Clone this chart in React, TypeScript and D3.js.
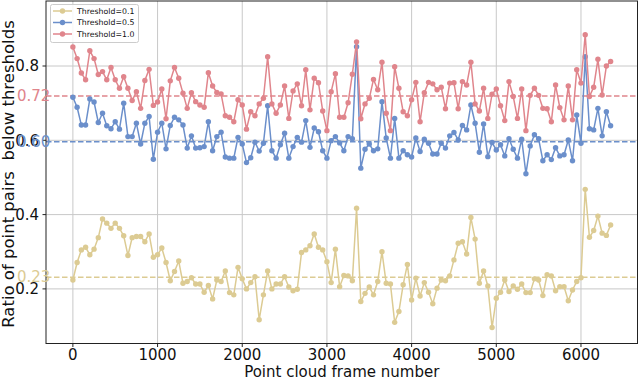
import React from "react";
import * as d3 from "d3";

const frames: number[] = d3.range(0, 6400, 50);

const thr01: number[] = [
  0.224, 0.271, 0.305, 0.312, 0.292, 0.307, 0.338, 0.388, 0.377, 0.363,
  0.377, 0.363, 0.343, 0.290, 0.338, 0.341, 0.341, 0.327, 0.348, 0.285,
  0.292, 0.310, 0.271, 0.222, 0.247, 0.275, 0.215, 0.220, 0.230, 0.213,
  0.213, 0.191, 0.209, 0.173, 0.224, 0.220, 0.248, 0.190, 0.184, 0.258,
  0.227, 0.200, 0.217, 0.233, 0.117, 0.184, 0.248, 0.200, 0.213, 0.213,
  0.233, 0.205, 0.195, 0.199, 0.298, 0.305, 0.316, 0.348, 0.312, 0.305,
  0.273, 0.217, 0.307, 0.206, 0.236, 0.235, 0.222, 0.417, 0.166, 0.188,
  0.205, 0.184, 0.220, 0.300, 0.215, 0.213, 0.110, 0.139, 0.211, 0.266,
  0.170, 0.229, 0.181, 0.217, 0.191, 0.160, 0.202, 0.224, 0.222, 0.235,
  0.278, 0.323, 0.327, 0.294, 0.392, 0.334, 0.215, 0.248, 0.208, 0.096,
  0.175, 0.191, 0.224, 0.193, 0.208, 0.199, 0.213, 0.190, 0.190, 0.227,
  0.224, 0.182, 0.238, 0.235, 0.195, 0.206, 0.206, 0.168, 0.197, 0.220,
  0.230, 0.468, 0.339, 0.357, 0.396, 0.350, 0.344, 0.372,
];

const thr05: number[] = [
  0.716, 0.689, 0.641, 0.641, 0.711, 0.703, 0.648, 0.673, 0.639, 0.631,
  0.650, 0.630, 0.700, 0.610, 0.610, 0.646, 0.590, 0.646, 0.664, 0.549,
  0.622, 0.646, 0.577, 0.640, 0.662, 0.655, 0.641, 0.579, 0.612, 0.579,
  0.580, 0.583, 0.650, 0.572, 0.610, 0.622, 0.555, 0.552, 0.552, 0.608,
  0.590, 0.540, 0.553, 0.595, 0.571, 0.592, 0.693, 0.572, 0.552, 0.588,
  0.619, 0.552, 0.583, 0.608, 0.595, 0.653, 0.581, 0.633, 0.623, 0.572,
  0.552, 0.599, 0.610, 0.593, 0.572, 0.610, 0.604, 0.852, 0.525, 0.576,
  0.590, 0.572, 0.577, 0.704, 0.606, 0.552, 0.659, 0.552, 0.572, 0.561,
  0.555, 0.606, 0.570, 0.603, 0.592, 0.563, 0.563, 0.592, 0.579, 0.612,
  0.621, 0.601, 0.640, 0.628, 0.695, 0.646, 0.568, 0.644, 0.556, 0.594,
  0.574, 0.588, 0.558, 0.604, 0.576, 0.552, 0.603, 0.510, 0.585, 0.615,
  0.604, 0.545, 0.561, 0.548, 0.580, 0.558, 0.561, 0.601, 0.545, 0.668,
  0.592, 0.825, 0.631, 0.628, 0.686, 0.612, 0.677, 0.639,
];

const thr10: number[] = [
  0.851, 0.820, 0.781, 0.763, 0.841, 0.820, 0.777, 0.785, 0.763, 0.796,
  0.763, 0.740, 0.771, 0.740, 0.707, 0.731, 0.686, 0.761, 0.791, 0.694,
  0.703, 0.738, 0.658, 0.760, 0.796, 0.767, 0.727, 0.686, 0.728, 0.704,
  0.695, 0.689, 0.782, 0.746, 0.729, 0.725, 0.666, 0.662, 0.650, 0.709,
  0.695, 0.630, 0.677, 0.666, 0.698, 0.713, 0.825, 0.698, 0.673, 0.695,
  0.746, 0.659, 0.733, 0.752, 0.693, 0.790, 0.682, 0.767, 0.755, 0.679,
  0.626, 0.731, 0.779, 0.662, 0.662, 0.701, 0.778, 0.865, 0.658, 0.698,
  0.713, 0.764, 0.736, 0.810, 0.673, 0.626, 0.798, 0.740, 0.677, 0.666,
  0.709, 0.756, 0.650, 0.728, 0.756, 0.752, 0.736, 0.743, 0.685, 0.754,
  0.755, 0.685, 0.758, 0.749, 0.810, 0.698, 0.679, 0.740, 0.659, 0.724,
  0.738, 0.693, 0.653, 0.758, 0.718, 0.659, 0.738, 0.626, 0.721, 0.740,
  0.721, 0.686, 0.685, 0.650, 0.749, 0.688, 0.655, 0.746, 0.655, 0.790,
  0.754, 0.884, 0.718, 0.743, 0.818, 0.722, 0.800, 0.812,
];

const seriesNames: string[] = ["Threshold=0.1", "Threshold=0.5", "Threshold=1.0"];
const seriesColors: string[] = ["#dccb93", "#6b8fcb", "#e0858c"];
const meanValues: number[] = [0.2315, 0.596, 0.7195];
const meanLabels: string[] = ["0.23", "0.60", "0.72"];
const xTicks: number[] = [0, 1000, 2000, 3000, 4000, 5000, 6000];
const yTicks: number[] = [0.2, 0.4, 0.6, 0.8];

const W = 640;
const H = 379;
const FONT = "DejaVu Sans, sans-serif";

export default function App() {
  const left = 46, right = 637.5, top = 1, bottom = 343.5;
  const x = d3.scaleLinear().domain([-317.5, 6667.5]).range([left, right]);
  const y = d3.scaleLinear().domain([0.053, 0.975]).range([bottom, top]);
  const allSeries = [thr01, thr05, thr10];
  const line = d3
    .line<number>()
    .x((_, i) => x(frames[i]))
    .y((d) => y(d));

  return (
    <div style={{ position: "absolute", left: 0, top: 0 }}>
      <svg width={W} height={H} style={{ display: "block", fontFamily: FONT }}>
        <rect x={0} y={0} width={W} height={H} fill="#fff" />
        {/* grid */}
        {xTicks.map((t) => (
          <line key={"gx" + t} x1={x(t)} x2={x(t)} y1={top} y2={bottom} stroke="#c8c8c8" strokeWidth={1} />
        ))}
        {yTicks.map((t) => (
          <line key={"gy" + t} x1={left} x2={right} y1={y(t)} y2={y(t)} stroke="#c8c8c8" strokeWidth={1} />
        ))}
        {/* mean lines */}
        {meanValues.map((m, k) => (
          <line
            key={"m" + k}
            x1={left}
            x2={right}
            y1={y(m)}
            y2={y(m)}
            stroke={seriesColors[k]}
            strokeWidth={1.5}
            strokeDasharray="5.5,2.5"
          />
        ))}
        {/* series */}
        {allSeries.map((s, k) => (
          <g key={"s" + k}>
            <path d={line(s) || ""} fill="none" stroke={seriesColors[k]} strokeWidth={1.5} />
            {s.map((v, i) => (
              <circle key={i} cx={x(frames[i])} cy={y(v)} r={2.7} fill={seriesColors[k]} />
            ))}
          </g>
        ))}
        {/* spines */}
        <rect x={left} y={top} width={right - left} height={bottom - top} fill="none" stroke="#222" strokeWidth={1} />
        {/* x ticks */}
        {xTicks.map((t) => (
          <g key={"xt" + t}>
            <line x1={x(t)} x2={x(t)} y1={bottom} y2={bottom + 3.5} stroke="#222" strokeWidth={1} />
            <text x={x(t)} y={bottom + 16.5} textAnchor="middle" fontSize={15} fill="#111">
              {t}
            </text>
          </g>
        ))}
        {/* y ticks */}
        {yTicks.map((t) => (
          <g key={"yt" + t}>
            <line x1={left - 3.5} x2={left} y1={y(t)} y2={y(t)} stroke="#222" strokeWidth={1} />
            <text x={left - 7} y={y(t)} dy="0.35em" textAnchor="end" fontSize={15} fill="#111">
              {d3.format(".1f")(t)}
            </text>
          </g>
        ))}
        {/* mean labels */}
        {meanValues.map((m, k) => (
          <text key={"ml" + k} x={17} y={y(m)} dy="0.35em" textAnchor="start" fontSize={15} fill={seriesColors[k]}>
            {meanLabels[k]}
          </text>
        ))}
        {/* axis labels */}
        <text x={(left + right) / 2} y={376.5} textAnchor="middle" fontSize={15} fill="#111">
          Point cloud frame number
        </text>
        <text
          transform={`translate(14,${174}) rotate(-90)`}
          textAnchor="middle"
          fontSize={16.5}
          fill="#111"
          style={{ whiteSpace: "pre" }}
        >
          {"Ratio of point pairs  below thresholds"}
        </text>
        {/* legend */}
        <g>
          <rect x={50.5} y={4.5} width={88} height={38} rx={2} fill="#fff" fillOpacity={0.85} stroke="#cccccc" strokeWidth={1} />
          {seriesNames.map((n, k) => (
            <g key={"lg" + k}>
              <line x1={53} x2={72} y1={11 + k * 11.5} y2={11 + k * 11.5} stroke={seriesColors[k]} strokeWidth={1.5} />
              <circle cx={62.5} cy={11 + k * 11.5} r={2.7} fill={seriesColors[k]} />
              <text x={77} y={11 + k * 11.5} dy="0.35em" fontSize={7.8} fill="#111">
                {n}
              </text>
            </g>
          ))}
        </g>
      </svg>
    </div>
  );
}
